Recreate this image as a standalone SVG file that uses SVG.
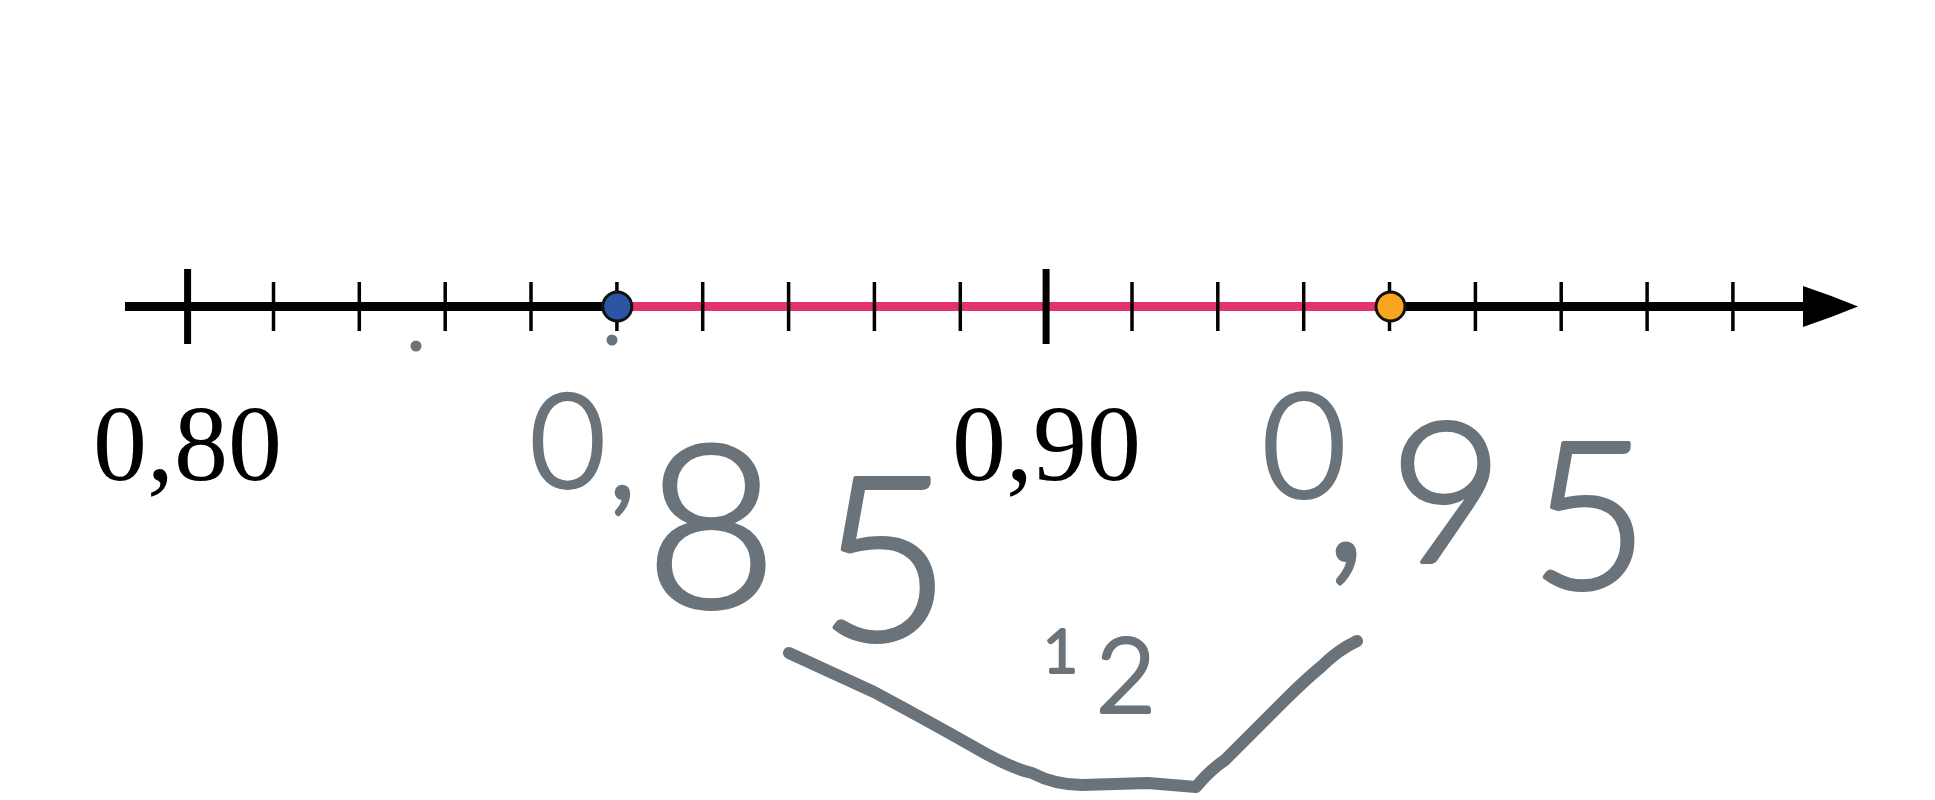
<svg xmlns="http://www.w3.org/2000/svg" width="1935" height="800" viewBox="0 0 1935 800">
<style>
.axis{stroke:#000;stroke-width:9;fill:none}
.minor{stroke:#000;stroke-width:3.5}
.major{stroke:#000;stroke-width:7}
.lbl{font-family:"Liberation Serif","Times New Roman",serif;font-size:108px;fill:#000;text-anchor:middle}
.hand{font-family:Lato,"Open Sans","Liberation Sans",sans-serif;font-weight:300;fill:#6b737a;stroke:#6b737a;stroke-width:4;stroke-linejoin:round}
.ink{stroke:#6b737a;stroke-width:12;fill:none;stroke-linecap:round;stroke-linejoin:round}
</style>
<rect width="1935" height="800" fill="#fff"/>
<g id="axis">
<line class="axis" x1="125" y1="306.5" x2="1810" y2="306.5"/>
<path d="M1858,306.5 Q1830,295 1803,286 L1803,327 Q1830,318 1858,306.5 Z" fill="#000"/>
<line x1="617.6" y1="306.5" x2="1391.6" y2="306.5" stroke="#e2336b" stroke-width="9"/>
<g id="ticks">
<line class="major" x1="187.6" y1="269" x2="187.6" y2="344"/>
<line class="minor" x1="273.5" y1="282" x2="273.5" y2="331"/>
<line class="minor" x1="359.3" y1="282" x2="359.3" y2="331"/>
<line class="minor" x1="445.2" y1="282" x2="445.2" y2="331"/>
<line class="minor" x1="531" y1="282" x2="531" y2="331"/>
<line class="minor" x1="616.9" y1="282" x2="616.9" y2="331"/>
<line class="minor" x1="702.7" y1="282" x2="702.7" y2="331"/>
<line class="minor" x1="788.6" y1="282" x2="788.6" y2="331"/>
<line class="minor" x1="874.4" y1="282" x2="874.4" y2="331"/>
<line class="minor" x1="960.3" y1="282" x2="960.3" y2="331"/>
<line class="major" x1="1046.1" y1="269" x2="1046.1" y2="344"/>
<line class="minor" x1="1132" y1="282" x2="1132" y2="331"/>
<line class="minor" x1="1217.8" y1="282" x2="1217.8" y2="331"/>
<line class="minor" x1="1303.7" y1="282" x2="1303.7" y2="331"/>
<line class="minor" x1="1389.5" y1="282" x2="1389.5" y2="331"/>
<line class="minor" x1="1475.4" y1="282" x2="1475.4" y2="331"/>
<line class="minor" x1="1561.2" y1="282" x2="1561.2" y2="331"/>
<line class="minor" x1="1647.1" y1="282" x2="1647.1" y2="331"/>
<line class="minor" x1="1732.9" y1="282" x2="1732.9" y2="331"/>
</g>
</g>
<g id="point-a">
<circle cx="617.3" cy="306.5" r="14.5" fill="#2a56a3" stroke="#111" stroke-width="3"/>
</g>
<g id="point-b">
<circle cx="1390.5" cy="306.5" r="14.5" fill="#f9a51e" stroke="#111" stroke-width="3"/>
</g>
<g id="labels">
<text class="lbl" x="187.6" y="480">0,80</text>
<text class="lbl" x="1046.6" y="480">0,90</text>
</g>
<g id="handwriting">
<circle cx="416" cy="346" r="5.5" fill="#6b737a"/>
<circle cx="612" cy="340" r="5.5" fill="#6b737a"/>
<text class="hand"><tspan x="530" y="487" font-size="130">0</tspan><tspan x="608" y="498" font-size="130">,</tspan><tspan x="645" y="607" font-size="228">8</tspan><tspan x="818" y="640" font-size="230">5</tspan></text>
<text class="hand"><tspan x="1262" y="497" font-size="145">0</tspan><tspan x="1325" y="560" font-size="190">,</tspan><tspan x="1390" y="562" font-size="195">9</tspan><tspan x="1530" y="588" font-size="205">5</tspan></text>
<text class="hand"><tspan x="1043" y="672" font-size="60">1</tspan><tspan x="1096" y="712" font-size="103">2</tspan></text>
<path class="ink" d="M789,653 L874,692 Q930,722 974,747 Q1010,768 1032,773 Q1055,785 1082,785 L1148,783 L1196,787 Q1210,770 1225,760 Q1255,730 1285,700 Q1305,680 1322,666 Q1338,650 1357,641"/>
</g>
</svg>
